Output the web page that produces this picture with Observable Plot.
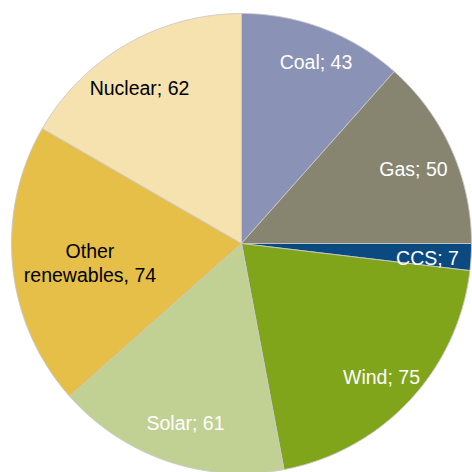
<!DOCTYPE html>
<html>
<head>
<meta charset="utf-8">
<script src="https://cdn.jsdelivr.net/npm/d3@7"></script>
<script src="https://cdn.jsdelivr.net/npm/@observablehq/plot@0.6"></script>
<style>
  html, body { margin: 0; padding: 0; background: #fff; }
  #chart svg { display: block; }
</style>
</head>
<body>
<div id="chart"></div>
<script>
// ---- data ----
const categories = ["Coal", "Gas", "CCS", "Wind", "Solar", "Other renewables", "Nuclear"];
const values = [43, 50, 7, 75, 61, 74, 62];
const labels = ["Coal; 43", "Gas; 50", "CCS; 7", "Wind; 75", "Solar; 61", "Other\nrenewables, 74", "Nuclear; 62"];
const palette = ["#8a92b5", "#878570", "#0b4a80", "#80a41a", "#c1d193", "#e5bf47", "#f6e2ae"];
const darkText = ["Other renewables", "Nuclear"];

// ---- layout (label placement tweaks, in radius fraction / degrees) ----
const labelLayout = {
  "Coal": {r: 0.855, da: 1.45},
  "Gas": {r: 0.816, da: 0.6},
  "CCS": {r: 0.811, da: 0.9},
  "Wind": {r: 0.84, da: 0.5},
  "Solar": {r: 0.815, da: -1.5},
  "Other renewables": {r: 0.664, da: -1.35},
  "Nuclear": {r: 0.81, da: -3.2}
};

const table = categories.map((c, i) => ({category: c, value: values[i], label: labels[i]}));
const arcs = d3.pie().sort(null).value(d => d.value)(table);

// slice outlines (center -> arc -> center), sampled from the pie angles
const slicePts = [];
for (const a of arcs) {
  const n = Math.max(2, Math.ceil((a.endAngle - a.startAngle) / (Math.PI / 360)));
  slicePts.push({category: a.data.category, x: 0, y: 0});
  for (let k = 0; k <= n; k++) {
    const t = a.startAngle + (a.endAngle - a.startAngle) * k / n;
    slicePts.push({category: a.data.category, x: Math.sin(t), y: Math.cos(t)});
  }
  slicePts.push({category: a.data.category, x: 0, y: 0});
}

const labelPts = arcs.map(a => {
  const L = labelLayout[a.data.category];
  const t = (a.startAngle + a.endAngle) / 2 + L.da * Math.PI / 180;
  return {category: a.data.category, label: a.data.label, x: L.r * Math.sin(t), y: L.r * Math.cos(t)};
});

const W = 472, H = 472, R = 230, CX = 241, CY = 243;

const chart = Plot.plot({
  width: W,
  height: H,
  margin: 0,
  x: {domain: [-CX / R, (W - CX) / R], range: [0, W], axis: null},
  y: {domain: [-(H - CY) / R, CY / R], range: [H, 0], axis: null},
  color: {domain: categories, range: palette},
  style: {fontFamily: "'Liberation Sans', Arial, sans-serif", background: "#fff"},
  marks: [
    Plot.line(slicePts, {x: "x", y: "y", z: "category", fill: "category", stroke: "#c8c8c8", strokeWidth: 0.9, strokeLinejoin: "round"}),
    Plot.text(labelPts.filter(d => !darkText.includes(d.category)), {x: "x", y: "y", text: "label", fill: "white", fontSize: 19.5, lineHeight: 1.23}),
    Plot.text(labelPts.filter(d => darkText.includes(d.category)), {x: "x", y: "y", text: "label", fill: "black", fontSize: 19.5, lineHeight: 1.23})
  ]
});
document.getElementById("chart").appendChild(chart);
</script>
</body>
</html>
